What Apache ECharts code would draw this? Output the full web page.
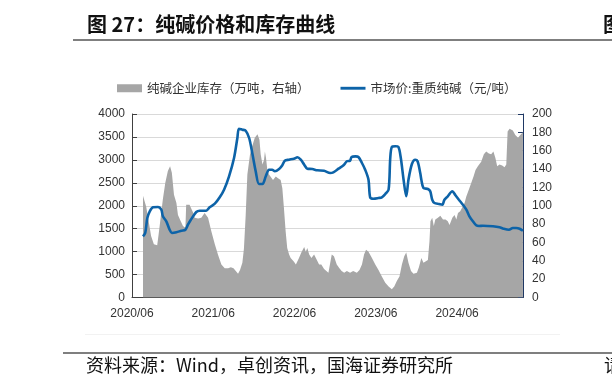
<!DOCTYPE html>
<html><head><meta charset="utf-8">
<script src="https://cdn.jsdelivr.net/npm/echarts@6/dist/echarts.min.js"></script>
<style>html,body{margin:0;padding:0;background:#fff}#c{width:612px;height:390px}</style>
</head><body><div id="c"></div>
<script>
const titleText = '图 27：纯碱价格和库存曲线';
const sourceText = '资料来源：Wind，卓创资讯，国海证券研究所';
const stockName = '纯碱企业库存（万吨，右轴）';
const priceName = '市场价:重质纯碱（元/吨）';
const xTickLabels = ['2020/06','2021/06','2022/06','2023/06','2024/06'];

const priceDates = ['2020-07-20','2020-07-30','2020-08-09','2020-08-20','2020-09-04','2020-09-26','2020-10-11','2020-10-18','2020-11-03','2020-11-18','2020-11-28','2020-12-18','2021-01-10','2021-01-28','2021-02-09','2021-02-22','2021-03-16','2021-04-01','2021-04-30','2021-05-15','2021-06-08','2021-06-30','2021-07-19','2021-08-11','2021-09-03','2021-09-18','2021-09-25','2021-10-10','2021-10-25','2021-11-10','2021-11-24','2021-12-09','2021-12-24','2022-01-09','2022-01-24','2022-02-08','2022-02-22','2022-03-04','2022-03-23','2022-04-07','2022-04-18','2022-05-07','2022-05-29','2022-06-14','2022-06-29','2022-07-14','2022-07-28','2022-08-20','2022-09-12','2022-10-12','2022-11-09','2022-11-23','2022-12-16','2023-01-08','2023-01-23','2023-02-07','2023-02-14','2023-03-01','2023-03-14','2023-03-30','2023-04-14','2023-04-29','2023-05-06','2023-05-21','2023-06-13','2023-06-28','2023-07-13','2023-07-28','2023-08-05','2023-08-12','2023-08-27','2023-09-11','2023-09-22','2023-10-04','2023-10-16','2023-10-26','2023-11-11','2023-11-26','2023-12-06','2023-12-18','2023-12-23','2024-01-02','2024-01-22','2024-02-02','2024-02-11','2024-02-21','2024-03-11','2024-03-26','2024-04-05','2024-04-20','2024-05-10','2024-05-24','2024-06-09','2024-06-27','2024-07-12','2024-07-26','2024-08-11','2024-08-26','2024-09-08','2024-09-26','2024-11-10','2024-12-09','2024-12-27','2025-01-21','2025-02-08','2025-02-23','2025-03-08','2025-03-23'];
const priceValues = [1334,1406,1733,1879,1966,1973,1914,1770,1661,1478,1406,1421,1456,1478,1587,1696,1864,1892,1892,1966,2045,2184,2350,2642,3041,3477,3680,3658,3636,3477,3150,2751,2474,2474,2642,2786,2786,2751,2801,2882,2982,3004,3026,3056,3004,2895,2808,2801,2773,2764,2714,2729,2808,2882,2969,2982,3063,3077,3063,2932,2786,2568,2184,2154,2169,2184,2256,2350,3041,3281,3296,3281,3041,2568,2206,2568,2910,3004,2969,2714,2568,2387,2365,2315,2132,2060,2038,2023,2132,2206,2315,2228,2132,2023,1914,1770,1661,1574,1559,1565,1552,1530,1500,1478,1515,1515,1500,1456];

const stockDates = ['2020-07-20','2020-07-27','2020-08-04','2020-08-15','2020-08-26','2020-09-08','2020-09-23','2020-09-29','2020-10-08','2020-10-18','2020-10-29','2020-11-10','2020-11-20','2020-11-28','2020-12-07','2020-12-18','2020-12-25','2021-01-07','2021-01-17','2021-01-28','2021-02-01','2021-02-09','2021-02-16','2021-02-22','2021-03-01','2021-03-09','2021-03-24','2021-04-08','2021-04-23','2021-05-08','2021-05-23','2021-06-08','2021-06-22','2021-07-07','2021-07-22','2021-08-07','2021-08-19','2021-08-31','2021-09-11','2021-09-21','2021-09-30','2021-10-10','2021-10-17','2021-10-25','2021-11-02','2021-11-14','2021-11-24','2021-12-05','2021-12-17','2021-12-26','2022-01-01','2022-01-09','2022-01-16','2022-01-20','2022-01-25','2022-01-31','2022-02-08','2022-02-15','2022-02-26','2022-03-08','2022-03-18','2022-03-30','2022-04-07','2022-04-14','2022-04-22','2022-04-29','2022-05-07','2022-05-14','2022-05-21','2022-05-29','2022-06-07','2022-06-14','2022-06-21','2022-07-01','2022-07-14','2022-07-21','2022-07-28','2022-08-06','2022-08-16','2022-08-28','2022-09-10','2022-09-20','2022-09-30','2022-10-12','2022-10-21','2022-11-01','2022-11-16','2022-11-26','2022-12-08','2022-12-20','2022-12-30','2023-01-11','2023-01-23','2023-02-07','2023-02-21','2023-03-07','2023-03-19','2023-03-30','2023-04-09','2023-04-18','2023-04-29','2023-05-14','2023-05-29','2023-06-13','2023-06-28','2023-07-13','2023-07-28','2023-08-12','2023-08-23','2023-09-04','2023-09-16','2023-09-27','2023-10-07','2023-10-16','2023-10-26','2023-11-07','2023-11-18','2023-12-03','2023-12-12','2023-12-23','2024-01-02','2024-01-11','2024-01-22','2024-01-29','2024-02-03','2024-02-11','2024-02-18','2024-02-25','2024-03-06','2024-03-17','2024-03-29','2024-04-10','2024-04-20','2024-04-28','2024-05-10','2024-05-20','2024-05-28','2024-06-05','2024-06-15','2024-06-24','2024-07-04','2024-07-12','2024-07-24','2024-08-04','2024-08-14','2024-08-23','2024-09-03','2024-09-18','2024-09-30','2024-10-10','2024-10-22','2024-11-02','2024-11-12','2024-11-21','2024-11-29','2024-12-09','2024-12-21','2025-01-01','2025-01-09','2025-01-15','2025-01-24','2025-02-08','2025-02-19','2025-03-01','2025-03-11','2025-03-23'];
const stockValues = [111,109,99,83,67,58,57,68,87,107,125,138,143,136,112,103,90,83,78,76,101,103,101,102,93,87,86,87,92,87,72,58,47,36,32,32,33,32,29,26,30,38,53,90,134,156,165,174,178,172,156,145,150,159,152,139,134,136,128,132,130,128,119,98,72,54,47,43,42,39,36,38,43,49,55,50,54,47,43,47,41,36,36,31,32,27,47,45,36,32,29,27,29,27,29,27,30,36,47,52,50,43,36,30,23,16,12,9,12,18,23,36,45,49,38,29,26,27,33,43,38,36,41,61,83,87,78,85,87,89,85,85,83,79,87,90,85,92,94,96,103,110,118,125,132,139,143,148,156,159,157,156,159,152,143,145,144,142,145,181,184,182,177,174,177,180];

function toMonth(s){const p=s.split('-').map(Number);return (p[0]-2020)*12+(p[1]-6)+(p[2]-1)/30.5;}
const priceData = priceDates.map((d,i)=>[toMonth(d),priceValues[i]]);
const stockData = stockDates.map((d,i)=>[toMonth(d),stockValues[i]]);

const chart = echarts.init(document.getElementById('c'), null, {renderer:'canvas'});
const numFont = 'Liberation Sans, Arial, sans-serif';
const cjkFont = 'Noto Sans CJK SC, sans-serif';
chart.setOption({
  animation:false,
  backgroundColor:'#fff',
  grid:{left:132,right:89,top:114,bottom:92.5,containLabel:false},
  legend:{
    left:112, top:77, itemGap:31, itemWidth:25, itemHeight:8,
    textStyle:{fontFamily:cjkFont,fontSize:12.5,color:'#333'},
    data:[{name:stockName,icon:'rect'},{name:priceName,icon:'path://M0,0L26,0L26,3L0,3Z'}]
  },
  xAxis:{
    type:'value', min:0, max:57.73, interval:12,
    axisLine:{show:true,lineStyle:{color:'#404040',width:1}},
    axisTick:{show:true,inside:true,length:5,lineStyle:{color:'#404040'}},
    splitLine:{show:false},
    axisLabel:{showMaxLabel:false,margin:10,fontFamily:numFont,fontSize:12,color:'#333',
      formatter:function(v){const k=Math.round(v/12);return Math.abs(v-k*12)<1e-6&&xTickLabels[k]?xTickLabels[k]:'';}}
  },
  yAxis:[{
    type:'value', min:0, max:4000, interval:500,
    axisLine:{show:true,lineStyle:{color:'#404040'}},
    axisTick:{show:true,inside:true,length:5,lineStyle:{color:'#404040'}},
    splitLine:{show:true,lineStyle:{color:'#d9d9d9',width:1}},
    axisLabel:{margin:7,fontFamily:numFont,fontSize:12,color:'#333',formatter:function(v){return String(v);}}
  },{
    type:'value', min:0, max:200, interval:20, position:'right',
    axisLine:{show:true,lineStyle:{color:'#1f3864'}},
    axisTick:{show:true,inside:true,length:5,lineStyle:{color:'#1f3864'}},
    splitLine:{show:false},
    axisLabel:{margin:9,fontFamily:numFont,fontSize:12,color:'#333',formatter:function(v){return String(v);}}
  }],
  series:[{
    name:stockName, type:'line', yAxisIndex:1, data:stockData,
    symbol:'none', showSymbol:false, lineStyle:{width:0,color:'#a6a6a6'},
    itemStyle:{color:'#a6a6a6'},
    areaStyle:{color:'#a6a6a6',opacity:1}, z:1
  },{
    name:priceName, type:'line', yAxisIndex:0, data:priceData,
    symbol:'none', showSymbol:false, smooth:0.3,
    lineStyle:{width:2.6,color:'#0d63a8'}, itemStyle:{color:'#0d63a8'}, z:3
  }],
  graphic:[
    {type:'text',left:87,top:14,style:{text:titleText,font:'bold 20px '+cjkFont,fill:'#111'}},
    {type:'text',left:603,top:14,style:{text:'图',font:'bold 20px '+cjkFont,fill:'#111'}},
    {type:'rect',shape:{x:73,y:39,width:540,height:2},style:{fill:'#7f7f7f'}},
    {type:'rect',shape:{x:85,y:334,width:475,height:1},style:{fill:'#f2f2f2'}},
    {type:'rect',shape:{x:63,y:352,width:550,height:2},style:{fill:'#7f7f7f'}},
    {type:'text',left:86,top:356,style:{text:sourceText,font:'18px '+cjkFont,fill:'#111'}},
    {type:'text',left:604,top:356,style:{text:'请',font:'18px '+cjkFont,fill:'#111'}}
  ]
});
</script>
</body></html>
